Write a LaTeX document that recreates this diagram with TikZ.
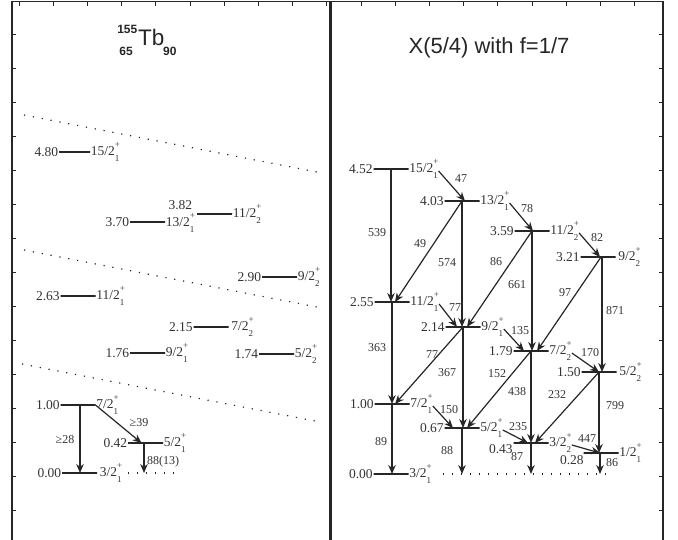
\documentclass[tikz,border=0pt]{standalone}
\usepackage{fontspec}
\setmainfont{Liberation Serif}
\newfontfamily\arialfont{Liberation Sans}
\usetikzlibrary{positioning,arrows.meta,calc}

% spin label J^+_n
\newcommand\jp[2]{#1\rlap{\raisebox{1.2ex}{\fontsize{9}{9}\selectfont+}}\raisebox{-1ex}{\fontsize{9}{9}\selectfont#2}}

\begin{document}
\begin{tikzpicture}[
  x=1pt, y=-1pt,
  lev/.style={draw=black!85, line width=1.5pt, minimum width=35pt, minimum height=0pt, inner sep=0pt, outer sep=0pt},
  en/.style={font=\fontsize{13.5}{14}\selectfont, text=black!80, inner sep=0.6pt},
  sp/.style={font=\fontsize{13.5}{14}\selectfont, text=black!80, inner sep=0.6pt},
  lbl/.style={font=\fontsize{12}{13}\selectfont, text=black!80, inner sep=0pt},
  tr/.style={draw=black!85, line width=1.2pt, -{Stealth[length=9pt,width=7.5pt]}},
  dots/.style={draw=black!85, line width=1.2pt, dash pattern=on 1.2pt off 7.8pt},
  frm/.style={draw=black!85, line width=1.7pt},
  tick/.style={draw=black!85, line width=0.8pt}
]
\useasboundingbox (0,0) rectangle (678,539);

% frames
\draw[frm] (12,1.5) rectangle (330,560);
\draw[frm] (331.5,1.5) rectangle (663,560);
\foreach \k in {0,...,18} \draw[tick] ({19+34.2*\k},1.5) -- ++(0,4);
\foreach \k in {1,...,15} {
  \draw[tick] (12,{34*\k}) -- ++(4,0);
  \draw[tick] (663,{34*\k}) -- ++(-4,0);
}

% titles
\node[anchor=base west, inner sep=0pt, text=black!85, font=\arialfont\fontsize{22.5}{23}\selectfont] (tb) at (138,45) {Tb};
\node[anchor=base east, inner sep=0pt, text=black!85, font=\arialfont\bfseries\fontsize{12}{12}\selectfont] (tbmass) at (137.5,33) {155};
\node[anchor=base east, inner sep=0pt, text=black!85, font=\arialfont\bfseries\fontsize{12}{12}\selectfont] (tbz) at (133,55) {65};
\node[anchor=base west, inner sep=0pt, text=black!85, font=\arialfont\bfseries\fontsize{12}{12}\selectfont] (tbn) at (163,55) {90};
\node[anchor=base, inner sep=0pt, text=black!85, font=\arialfont\fontsize{22}{22}\selectfont] (xtitle) at (489,53) {X(5/4) with f=1/7};

% left panel: experiment
\draw[dots] (24,115) -- (322,173);
\draw[dots] (24,250) -- (322,308);
\draw[dots] (22,364) -- (320,422);

\node[lev, minimum width=31pt] (t480) at (74.5,152) {};
\node[en, left=0pt of t480] (et480) {4.80};
\node[sp, right=0pt of t480] (st480) {\jp{15/2}{1}};
\node[lev] (t382) at (214.5,214) {};
\node[en, left=4pt of t382, yshift=9pt] (et382) {3.82};
\node[sp, right=0pt of t382] (st382) {\jp{11/2}{2}};
\node[lev] (t370) at (147.5,222) {};
\node[en, left=0pt of t370] (et370) {3.70};
\node[sp, right=0pt of t370, yshift=-1pt] (st370) {\jp{13/2}{1}};
\node[lev] (t290) at (279.5,277) {};
\node[en, left=0pt of t290] (et290) {2.90};
\node[sp, right=0pt of t290] (st290) {\jp{9/2}{2}};
\node[lev] (t263) at (78,296) {};
\node[en, left=0pt of t263] (et263) {2.63};
\node[sp, right=0pt of t263] (st263) {\jp{11/2}{1}};
\node[lev] (t215) at (211,327) {};
\node[en, left=0pt of t215] (et215) {2.15};
\node[sp, right=2pt of t215] (st215) {\jp{7/2}{2}};
\node[lev] (t176) at (147.5,353) {};
\node[en, left=0pt of t176] (et176) {1.76};
\node[sp, right=0pt of t176] (st176) {\jp{9/2}{1}};
\node[lev] (t174) at (276.5,354) {};
\node[en, left=0pt of t174] (et174) {1.74};
\node[sp, right=0pt of t174] (st174) {\jp{5/2}{2}};
\node[lev] (t100) at (78,405) {};
\node[en, left=0pt of t100] (et100) {1.00};
\node[sp, right=0pt of t100] (st100) {\jp{7/2}{1}};
\node[lev] (t042) at (145.5,443) {};
\node[en, left=0pt of t042] (et042) {0.42};
\node[sp, right=0pt of t042] (st042) {\jp{5/2}{1}};
\node[lev] (t000) at (79.5,473) {};
\node[en, left=0pt of t000] (et000) {0.00};
\node[sp, right=2pt of t000] (st000) {\jp{3/2}{1}};
\draw[dots] ($(t000)+(48,0)$) -- ($(t000)+(94,0)$);

\draw[tr] ($(t100)+(2,0)$) -- ($(t100 |- t000)+(2,0)$);
\draw[tr] (t100.east) -- ($(t042)+(-4,0)$);
\draw[tr] ($(t042)+(-1.5,0)$) -- ($(t042 |- t000)+(-1.5,0)$);
\node[lbl] (g28) at (65,440) {≥28};
\node[lbl] (g39) at (139,423) {≥39};
\node[lbl] (b8813) at (163,462) {88(13)};

% right panel: X(5/4)
\node[lev] (x452) at (391,169) {};
\node[en, left=0pt of x452] (ex452) {4.52};
\node[sp, right=0pt of x452] (sx452) {\jp{15/2}{1}};
\node[lev] (x403) at (462,201) {};
\node[en, left=0pt of x403] (ex403) {4.03};
\node[sp, right=0pt of x403] (sx403) {\jp{13/2}{1}};
\node[lev] (x359) at (532,231) {};
\node[en, left=0pt of x359] (ex359) {3.59};
\node[sp, right=0pt of x359] (sx359) {\jp{11/2}{2}};
\node[lev] (x321) at (598,257) {};
\node[en, left=0pt of x321] (ex321) {3.21};
\node[sp, right=2pt of x321] (sx321) {\jp{9/2}{2}};
\node[lev] (x255) at (392,302) {};
\node[en, left=0pt of x255] (ex255) {2.55};
\node[sp, right=0pt of x255] (sx255) {\jp{11/2}{1}};
\node[lev] (x214) at (463,327) {};
\node[en, left=0pt of x214] (ex214) {2.14};
\node[sp, right=0pt of x214] (sx214) {\jp{9/2}{1}};
\node[lev] (x179) at (531,351) {};
\node[en, left=0pt of x179] (ex179) {1.79};
\node[sp, right=0pt of x179] (sx179) {\jp{7/2}{2}};
\node[lev] (x150) at (599,372) {};
\node[en, left=0pt of x150] (ex150) {1.50};
\node[sp, right=2pt of x150] (sx150) {\jp{5/2}{2}};
\node[lev] (x100) at (392,404) {};
\node[en, left=0pt of x100] (ex100) {1.00};
\node[sp, right=0pt of x100] (sx100) {\jp{7/2}{1}};
\node[lev] (x067) at (462,428) {};
\node[en, left=0pt of x067] (ex067) {0.67};
\node[sp, right=0pt of x067] (sx067) {\jp{5/2}{1}};
\node[lev] (x043) at (531,443) {};
\node[en, left=0pt of x043, yshift=-6pt] (ex043) {0.43};
\node[sp, right=0pt of x043] (sx043) {\jp{3/2}{2}};
\node[lev] (x028) at (601,453) {};
\node[en, left=-1pt of x028, yshift=-7pt] (ex028) {0.28};
\node[sp, right=0pt of x028] (sx028) {\jp{1/2}{1}};
\node[lev] (x000) at (391,474) {};
\node[en, left=0pt of x000] (ex000) {0.00};
\node[sp, right=0pt of x000] (sx000) {\jp{3/2}{1}};
\draw[dots] ($(x000)+(52,0)$) -- ($(x000)+(222,0)$);

% vertical transitions
\draw[tr] (x452.center) -- (x452 |- x255);
\draw[tr] (x403.center) -- (x403 |- x214);
\draw[tr] (x359.center) -- (x359 |- x179);
\draw[tr] ($(x321)+(4,0)$) -- ($(x321 |- x150)+(4,0)$);
\draw[tr] (x255.center) -- (x255 |- x100);
\draw[tr] (x214.center) -- (x214 |- x067);
\draw[tr] (x179.center) -- (x179 |- x043);
\draw[tr] (x150.center) -- (x150 |- x028);
\draw[tr] (x100.center) -- (x100 |- x000);
\draw[tr] (x067.center) -- (x067 |- x000);
\draw[tr] (x043.center) -- (x043 |- x000);
\draw[tr] ($(x028)+(-1,0)$) -- ($(x028 |- x000)+(-1,0)$);

% diagonal transitions
\draw[tr] ([yshift=-2pt]sx452.east) -- ($(x403)+(3,0)$);
\draw[tr] (x403.center) -- ($(x255)+(3,0)$);
\draw[tr] ([yshift=-2pt]sx403.east) -- ($(x359)+(1,0)$);
\draw[tr] (x359.center) -- ($(x214)+(4,0)$);
\draw[tr] ([yshift=-2pt]sx359.east) -- ($(x321)+(2,0)$);
\draw[tr] ($(x321)+(3,0)$) -- ($(x179)+(6,0)$);
\draw[tr] ([yshift=-2pt]sx255.east) -- ($(x214)+(-6,0)$);
\draw[tr] (x214.center) -- ($(x100)+(3,0)$);
\draw[tr] ([yshift=-2pt]sx214.east) -- ($(x179)+(-7,0)$);
\draw[tr] (x179.center) -- ($(x067)+(5,0)$);
\draw[tr] ([yshift=-2pt]sx179.east) -- (x150.center);
\draw[tr] (x150.center) -- ($(x043)+(4,0)$);
\draw[tr] ([yshift=-2pt]sx100.east) -- ($(x067)+(-9,0)$);
\draw[tr] ([yshift=-2pt]sx067.east) -- ($(x043)+(-3,0)$);
\draw[tr] ([yshift=-2pt]sx043.east) -- ($(x028)+(-1,0)$);

% transition labels
\node[lbl] (n539) at (377,233) {539};
\node[lbl] (n47) at (461,179) {47};
\node[lbl] (n49) at (420,244) {49};
\node[lbl] (n574) at (447,263) {574};
\node[lbl] (n78) at (527,209) {78};
\node[lbl] (n86a) at (496,262) {86};
\node[lbl] (n661) at (517,285) {661};
\node[lbl] (n82) at (597,238) {82};
\node[lbl] (n97) at (565,293) {97};
\node[lbl] (n871) at (615,311) {871};
\node[lbl] (n363) at (377,348) {363};
\node[lbl] (n77a) at (455,308) {77};
\node[lbl] (n77b) at (432,355) {77};
\node[lbl] (n367) at (447,373) {367};
\node[lbl] (n135) at (520,331) {135};
\node[lbl] (n152) at (497,374) {152};
\node[lbl] (n438) at (517,392) {438};
\node[lbl] (n170) at (590,353) {170};
\node[lbl] (n232) at (557,395) {232};
\node[lbl] (n799) at (615,406) {799};
\node[lbl] (n89) at (381,442) {89};
\node[lbl] (n150) at (449,410) {150};
\node[lbl] (n88) at (447,451) {88};
\node[lbl] (n235) at (518,427) {235};
\node[lbl] (n87) at (517,457) {87};
\node[lbl] (n447) at (587,439) {447};
\node[lbl] (n86b) at (612,463) {86};

\end{tikzpicture}
\end{document}
